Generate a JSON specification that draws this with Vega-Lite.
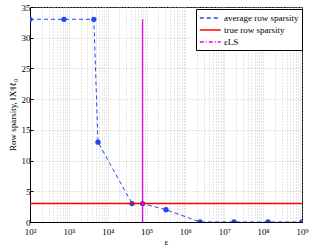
{
  "$schema": "https://vega.github.io/schema/vega-lite/v6.json",
  "width": 272,
  "height": 215,
  "autosize": "none",
  "padding": {"left": 30, "top": 7, "right": 9, "bottom": 25},
  "background": "white",
  "config": {
    "view": {"stroke": "black", "strokeWidth": 1},
    "font": "Liberation Serif",
    "legend": {"labelFont": "Liberation Serif", "labelFontSize": 9, "labelColor": "black"},
    "axis": {
      "domainColor": "black",
      "tickColor": "black",
      "tickSize": -3,
      "labelColor": "black",
      "labelFont": "Liberation Serif",
      "labelFontSize": 9,
      "titleFont": "Liberation Serif",
      "titleFontSize": 9,
      "titleFontWeight": "normal",
      "titleColor": "black",
      "gridColor": "#bdbdbd",
      "gridDash": [1, 2],
      "gridWidth": 0.8
    }
  },
  "datasets": {
    "avg": [
      {"series": "average row sparsity", "x": 100, "y": 33},
      {"series": "average row sparsity", "x": 750, "y": 33},
      {"series": "average row sparsity", "x": 4400, "y": 33},
      {"series": "average row sparsity", "x": 5623, "y": 13},
      {"series": "average row sparsity", "x": 42170, "y": 3},
      {"series": "average row sparsity", "x": 79000, "y": 3},
      {"series": "average row sparsity", "x": 316228, "y": 2},
      {"series": "average row sparsity", "x": 2371374, "y": 0},
      {"series": "average row sparsity", "x": 17782794, "y": 0},
      {"series": "average row sparsity", "x": 133352143, "y": 0},
      {"series": "average row sparsity", "x": 1000000000, "y": 0}
    ],
    "truth": [{"series": "true row sparsity", "y": 3}],
    "ls": [{"series": "εLS", "x": 79000, "y": 0, "y2": 33}]
  },
  "layer": [
    {
      "data": {"name": "avg"},
      "mark": {"type": "line", "strokeDash": [4, 3], "strokeWidth": 1, "clip": true,
        "point": {"filled": true, "size": 28, "opacity": 1}},
      "encoding": {
        "x": {"field": "x", "type": "quantitative",
          "scale": {"type": "log", "domain": [100, 1000000000], "nice": false},
          "axis": {
            "title": "ε", "titlePadding": 1,
            "values": [100,200,300,400,500,600,700,800,900,1000,2000,3000,4000,5000,6000,7000,8000,9000,10000,20000,30000,40000,50000,60000,70000,80000,90000,100000,200000,300000,400000,500000,600000,700000,800000,900000,1000000,2000000,3000000,4000000,5000000,6000000,7000000,8000000,9000000,10000000,20000000,30000000,40000000,50000000,60000000,70000000,80000000,90000000,100000000,200000000,300000000,400000000,500000000,600000000,700000000,800000000,900000000,1000000000],
            "labelExpr": "abs(log(datum.value)/LN10 - round(log(datum.value)/LN10)) < 0.001 ? '10' + ['⁰','¹','²','³','⁴','⁵','⁶','⁷','⁸','⁹'][round(log(datum.value)/LN10)] : ''",
            "labelPadding": 5,
            "labelFlush": false,
            "labelOverlap": false,
            "ticks": false
          }
        },
        "y": {"field": "y", "type": "quantitative",
          "scale": {"domain": [0, 35], "nice": false},
          "axis": {"title": "Row sparsity, ‖Xʳ‖ℓ₀", "values": [0,5,10,15,20,25,30,35], "tickCount": 8, "labelOverlap": false, "labelFlush": false, "labelPadding": 3, "titlePadding": 4}
        },
        "color": {"field": "series", "type": "nominal",
          "scale": {"domain": ["average row sparsity", "true row sparsity", "εLS"], "range": ["#2346f0", "#ff0000", "#ee00ee"]},
          "legend": {
            "title": null,
            "orient": "none",
            "legendX": 166,
            "legendY": 2,
            "fillColor": "white",
            "strokeColor": "black",
            "padding": 3,
            "symbolType": "M-1,0H3",
            "symbolSize": 110,
            "symbolStrokeWidth": 1.5,
            "labelFont": "Liberation Serif",
            "labelFontSize": 9,
            "labelColor": "black",
            "labelOffset": 13,
            "rowPadding": 1,
            "encode": {
              "symbols": {"update": {"strokeDash": {"signal": "datum.value === 'average row sparsity' ? [4,3] : datum.value === 'εLS' ? [4,2,1,2] : [1,0]"}}}
            }
          }
        }
      }
    },
    {
      "data": {"name": "truth"},
      "mark": {"type": "rule", "strokeWidth": 1.5},
      "encoding": {
        "y": {"field": "y", "type": "quantitative",
          "axis": {"title": "Row sparsity, ‖Xʳ‖ℓ₀", "values": [0,5,10,15,20,25,30,35], "tickCount": 8, "labelOverlap": false, "labelFlush": false, "labelPadding": 3, "titlePadding": 4}},
        "color": {"field": "series", "type": "nominal"}
      }
    },
    {
      "data": {"name": "ls"},
      "mark": {"type": "rule", "strokeWidth": 1.2},
      "encoding": {
        "x": {"field": "x", "type": "quantitative"},
        "y": {"field": "y", "type": "quantitative",
          "axis": {"title": "Row sparsity, ‖Xʳ‖ℓ₀", "values": [0,5,10,15,20,25,30,35], "tickCount": 8, "labelOverlap": false, "labelFlush": false, "labelPadding": 3, "titlePadding": 4}},
        "y2": {"field": "y2"},
        "color": {"field": "series", "type": "nominal"}
      }
    }
  ]
}
